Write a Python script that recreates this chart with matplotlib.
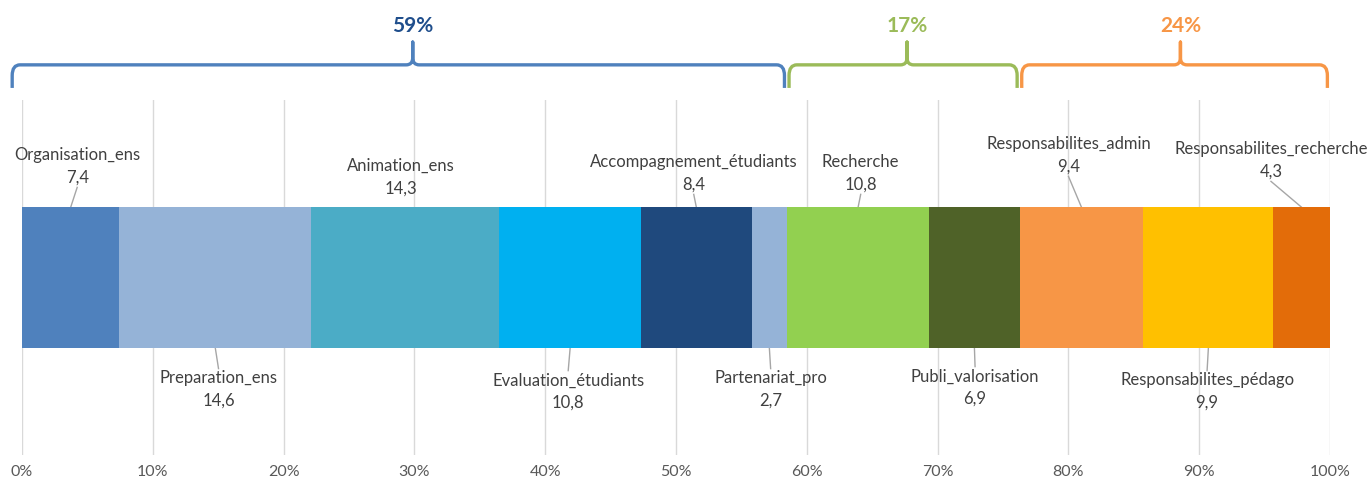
import numpy as np
import matplotlib
matplotlib.use("Agg")
import matplotlib.pyplot as plt
from matplotlib.path import Path
from matplotlib.patches import PathPatch
import matplotlib.transforms as mtransforms

# activities and their share (hours, not normalised)
activities = ["Organisation_ens", "Preparation_ens", "Animation_ens",
              "Evaluation_étudiants", "Accompagnement_étudiants", "Partenariat_pro",
              "Recherche", "Publi_valorisation", "Responsabilites_admin",
              "Responsabilites_pédago", "Responsabilites_recherche"]
values = [7.4, 14.6, 14.3, 10.8, 8.4, 2.7, 10.8, 6.9, 9.4, 9.9, 4.3]
colors = ["#4F81BD", "#95B3D7", "#4BACC6", "#00B0F0", "#1F497D", "#95B3D7",
          "#92D050", "#4F6228", "#F79646", "#FFC000", "#E36C09"]

# groups shown with braces on top
group_sizes = [6, 2, 3]
group_labels = ["59%", "17%", "24%"]
group_colors = ["#4F81BD", "#9BBB59", "#F79646"]
group_text_colors = ["#1F4E8C", "#9BBB59", "#F79646"]

# label placement (offset from segment centre in %, distance from bar edge in px)
label_dx = [0.5, 0.25, -0.3, -0.15, -0.2, 0.1, 0.2, 0.05, -1.0, -0.1, -2.35]
label_dy = [41, 42, 30, 44, 34, 42, 34, 40, 52, 44, 47]
brace_peak_dx = [1.1, 0.3, 0.45]

plt.rcParams['font.family'] = ['Lato', 'DejaVu Sans']

fig = plt.figure(figsize=(13.7, 4.83), dpi=100)
ax = fig.add_axes([22 / 1370, 28 / 483, 1308 / 1370, 355 / 483])

pct = np.array(values) / np.sum(values) * 100
left = np.concatenate([[0], np.cumsum(pct)[:-1]])
bar_y, bar_h = 0.5, 0.395
ax.barh(bar_y, pct, left=left, height=bar_h, color=colors, zorder=3)

ax.set_xlim(0, 100)
ax.set_ylim(0, 1)
ax.set_xticks(np.arange(0, 101, 10))
ax.set_xticklabels([f"{t}%" for t in range(0, 101, 10)], color="#595959", fontsize=11.5)
ax.tick_params(axis="x", length=0, pad=7)
ax.set_yticks([])
ax.grid(axis="x", color="#D9D9D9", lw=1.0)
ax.set_axisbelow(True)
for s in ax.spines.values():
    s.set_visible(False)

# data labels with leader lines
px_to_ax = 1 / 355
for i, (name, v) in enumerate(zip(activities, values)):
    c = left[i] + pct[i] / 2
    above = i % 2 == 0
    edge = bar_y + bar_h / 2 if above else bar_y - bar_h / 2
    ty = edge + label_dy[i] * px_to_ax if above else edge - label_dy[i] * px_to_ax
    tx = c + label_dx[i]
    txt = f"{name}\n{v:.1f}".replace(".", ",")
    ax.text(tx, ty, txt, ha="center", va="center", fontsize=12,
            color="#404040", linespacing=1.5, zorder=4)
    if label_dy[i] > 32:
        ly = ty - 21 * px_to_ax if above else ty + 21 * px_to_ax
        ax.plot([tx, c], [ly, edge], color="#A6A6A6", lw=1.0, zorder=2,
                clip_on=False)

# braces
trans = mtransforms.blended_transform_factory(ax.transData, ax.transAxes)
bounds = np.concatenate([[0], np.cumsum(pct)])
idx = np.concatenate([[0], np.cumsum(group_sizes)])
y_line, y_end, y_peak = 1.099, 1.034, 1.163
rx, ry = 0.6, 0.03
for g in range(len(group_sizes)):
    x0 = bounds[idx[g]] + 0.15
    x1 = bounds[idx[g + 1]] - 0.2
    if g == 0:
        x0 = -0.75
    m = (x0 + x1) / 2 + brace_peak_dx[g]
    verts = [(x0, y_end), (x0, y_line - ry), (x0, y_line), (x0 + rx, y_line),
             (m - 0.5, y_line), (m, y_line), (m, y_line + 0.02), (m, y_peak),
             (m, y_line + 0.02), (m, y_line), (m + 0.5, y_line),
             (x1 - rx, y_line), (x1, y_line), (x1, y_line - ry), (x1, y_end)]
    codes = [Path.MOVETO, Path.LINETO, Path.CURVE3, Path.CURVE3,
             Path.LINETO, Path.CURVE3, Path.CURVE3, Path.LINETO,
             Path.LINETO, Path.CURVE3, Path.CURVE3,
             Path.LINETO, Path.CURVE3, Path.CURVE3, Path.LINETO]
    patch = PathPatch(Path(verts, codes), transform=trans, fill=False,
                      edgecolor=group_colors[g], lw=2.4, clip_on=False,
                      capstyle="butt", joinstyle="round")
    ax.add_patch(patch)
    ax.text(m, 1.208, group_labels[g], transform=trans, ha="center", va="center",
            fontsize=15, fontweight="bold", color=group_text_colors[g])

fig.savefig("out.png", dpi=100, facecolor="white")
